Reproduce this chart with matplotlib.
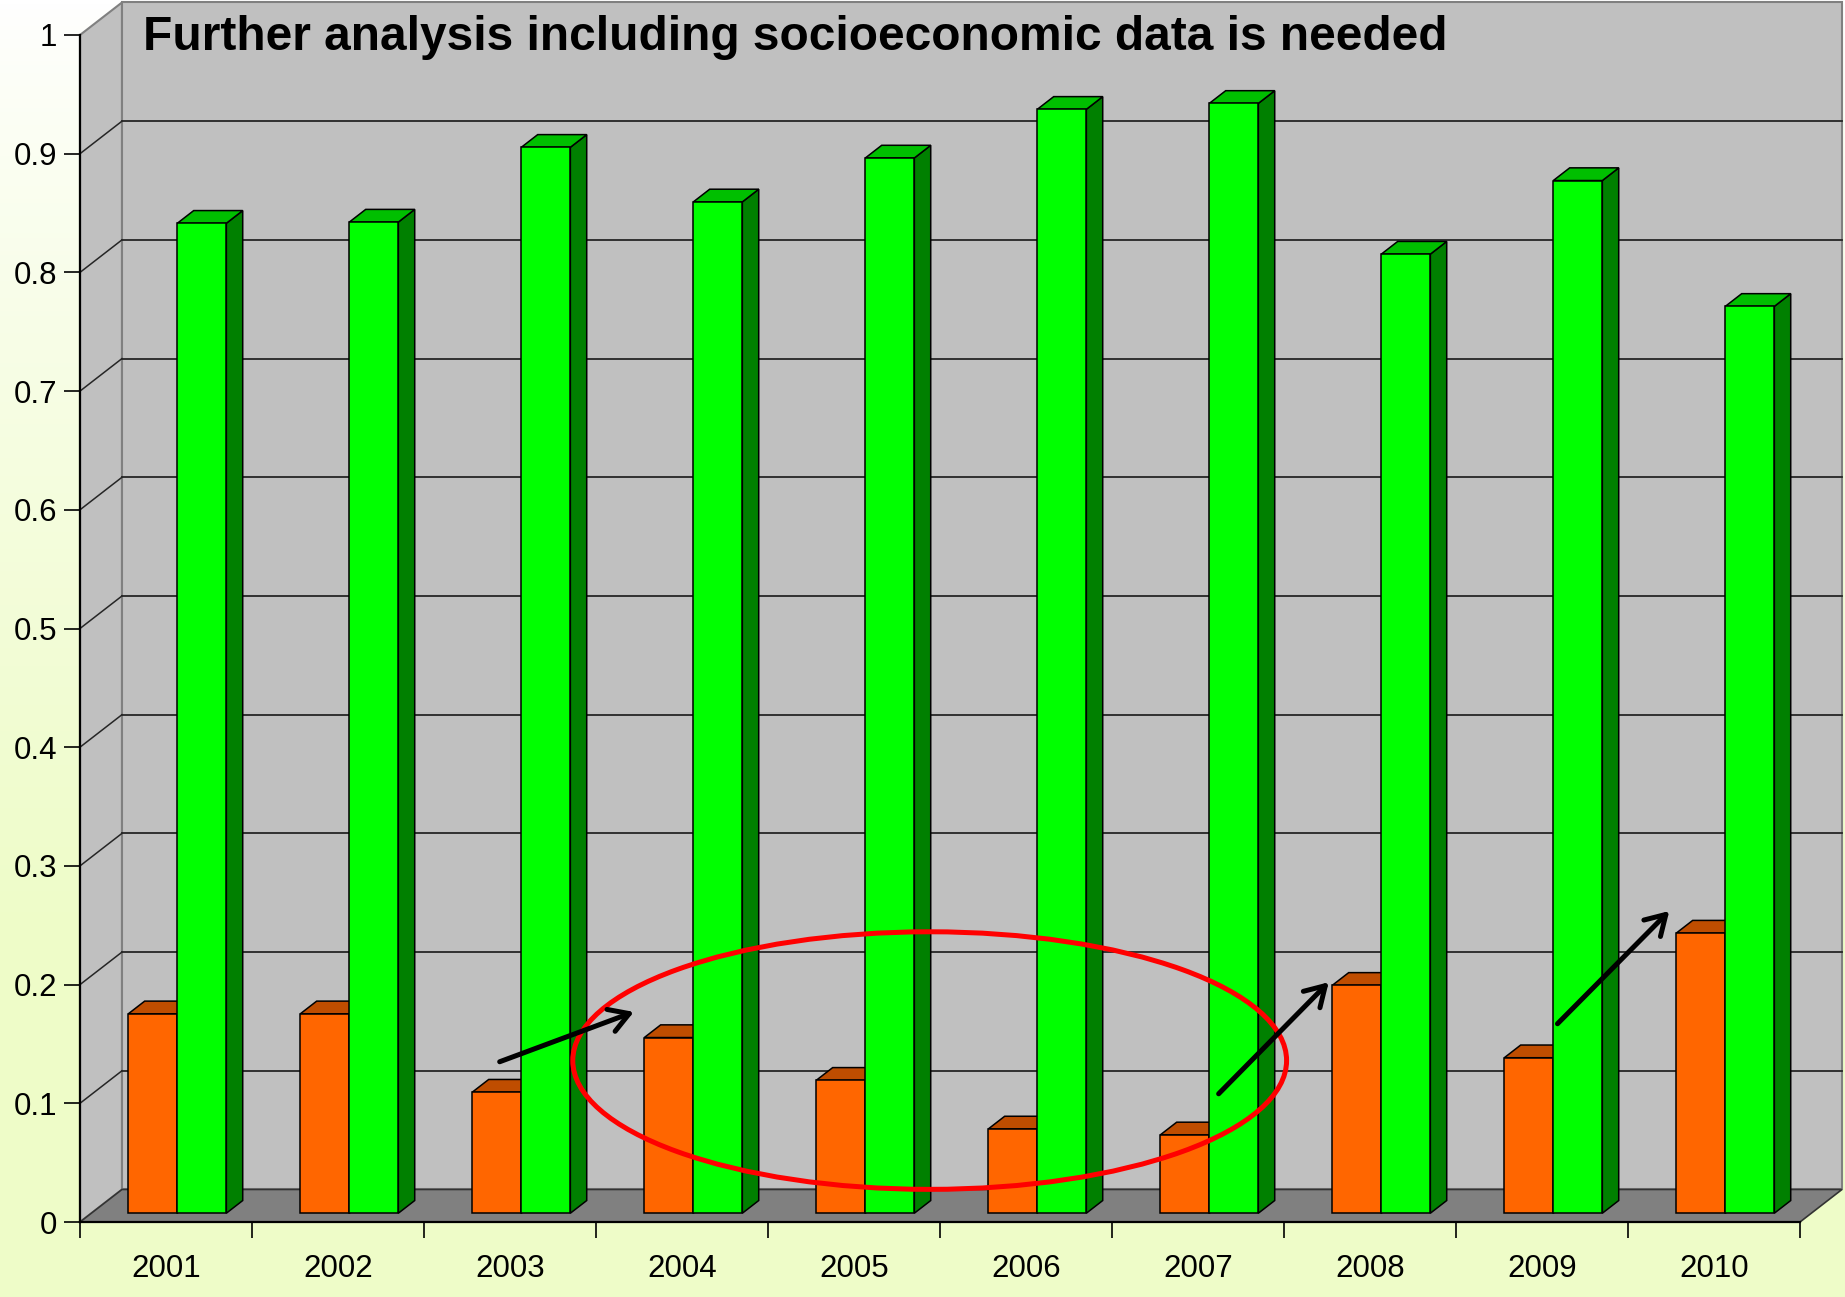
import matplotlib
matplotlib.use("Agg")
import matplotlib.pyplot as plt
import numpy as np
from matplotlib.patches import Polygon, Ellipse, FancyArrowPatch

plt.rcParams['font.family'] = ['Liberation Sans', 'DejaVu Sans']

# data
years = ["2001", "2002", "2003", "2004", "2005", "2006", "2007", "2008", "2009", "2010"]
orange_vals = [0.168, 0.168, 0.102, 0.148, 0.112, 0.071, 0.066, 0.192, 0.131, 0.236]
green_vals = [0.834, 0.835, 0.898, 0.852, 0.889, 0.930, 0.935, 0.808, 0.870, 0.764]
yticks = [0, 0.1, 0.2, 0.3, 0.4, 0.5, 0.6, 0.7, 0.8, 0.9, 1]
title = "Further analysis including socioeconomic data is needed"

# annotation positions (data units)
ring_center = (4.94, 0.136)
ring_size = (4.15, 0.217)
arrows = [((2.44, 0.135), (3.22, 0.177)),
          ((6.62, 0.108), (7.26, 0.202)),
          ((8.59, 0.167), (9.24, 0.262))]

# oblique depth of the chart box, in data units
DX, DY = 0.244, 0.0274
front_d, back_d = 0.27, 0.66   # where the bars sit inside the depth
bar_w = 0.285

W, H = 1845, 1297
fig = plt.figure(figsize=(W / 100, H / 100), dpi=100)

# background gradient
bg = fig.add_axes([0, 0, 1, 1], zorder=-1)
t = np.clip(np.linspace(0, 1, 300) / 0.72, 0, 1) ** 0.8
top = np.array([255, 255, 255]) / 255
bot = np.array([238, 252, 200]) / 255
grad = top[None, :] * (1 - t[:, None]) + bot[None, :] * t[:, None]
bg.imshow(grad[:, None, :], aspect='auto', extent=[0, 1, 0, 1])
bg.axis('off')

ax = fig.add_axes([80 / W, 1 - 1222 / H, 1720 / W, (1222 - 35) / H])
ax.set_facecolor('none')
ax.set_xlim(0, 10)
ax.set_ylim(0, 1)

# walls and floor
side = Polygon([(0, 0), (DX, DY), (DX, 1 + DY), (0, 1)], closed=True,
               fc='#C0C0C0', ec='#808080', lw=1.5, clip_on=False, zorder=1)
back = Polygon([(DX, DY), (10 + DX, DY), (10 + DX, 1 + DY), (DX, 1 + DY)], closed=True,
               fc='#C0C0C0', ec='#808080', lw=1.5, clip_on=False, zorder=1)
floor = Polygon([(0, 0), (10, 0), (10 + DX, DY), (DX, DY)], closed=True,
                fc='#808080', ec='#333333', lw=1.2, clip_on=False, zorder=1.1)
for p in (side, back, floor):
    ax.add_patch(p)

# gridlines on the back and side walls
for v in yticks[1:-1]:
    ax.plot([DX, 10 + DX], [v + DY, v + DY], color='#262626', lw=1.3, zorder=1.2, clip_on=False)
    ax.plot([0, DX], [v, v + DY], color='#262626', lw=1.1, zorder=1.2, clip_on=False)


def draw_bar(x0, val, front_c, top_c, side_c, z):
    fx, fy = front_d * DX, front_d * DY
    bx, by = (back_d - front_d) * DX, (back_d - front_d) * DY
    left = x0 + fx
    right = left + bar_w
    top_y = fy + val
    ax.add_patch(Polygon([(right, fy), (right + bx, fy + by), (right + bx, top_y + by), (right, top_y)],
                         closed=True, fc=side_c, ec='black', lw=1.1, zorder=z, clip_on=False))
    ax.add_patch(Polygon([(left, top_y), (right, top_y), (right + bx, top_y + by), (left + bx, top_y + by)],
                         closed=True, fc=top_c, ec='black', lw=1.1, zorder=z, clip_on=False))
    ax.bar(left, val, width=bar_w, bottom=fy, align='edge', color=front_c,
           edgecolor='black', linewidth=1.1, zorder=z + 0.01, clip_on=False)


for i in range(len(years)):
    c = i + 0.5
    draw_bar(c - bar_w, orange_vals[i], '#FF6600', '#BF4D00', '#A04000', 2 + i * 0.05)
    draw_bar(c, green_vals[i], '#00FF00', '#00BF00', '#008000', 2.02 + i * 0.05)

# axes, ticks and labels
for s in ('top', 'right'):
    ax.spines[s].set_visible(False)
for s in ('left', 'bottom'):
    ax.spines[s].set_linewidth(1.6)
    ax.spines[s].set_zorder(3)
ax.set_yticks(yticks)
ax.set_yticklabels([f"{v:g}" for v in yticks])
ax.set_xticks(np.arange(11))
ax.set_xticklabels([])
ax.set_xticks(np.arange(10) + 0.5, minor=True)
ax.set_xticklabels(years, minor=True)
ax.tick_params(axis='both', which='major', length=11.5, width=1.2, labelsize=22.5, color='black')
ax.tick_params(axis='y', pad=5)
ax.tick_params(axis='x', which='minor', length=0, labelsize=22.5, pad=23)

# highlight ring and arrows
ax.add_patch(Ellipse(ring_center, ring_size[0], ring_size[1], fill=False,
                     ec='#FF0000', lw=3.6, zorder=5, clip_on=False))
for tail, head in arrows:
    ax.add_patch(FancyArrowPatch(tail, head, arrowstyle='->,head_length=0.7,head_width=0.42',
                                 mutation_scale=20, color='black', lw=3.6, zorder=6,
                                 shrinkA=0, shrinkB=0))

fig.text(143 / W, 1 - 50 / H, title, fontsize=34.5, fontweight='bold',
         ha='left', va='baseline', zorder=10)

fig.savefig("out.png", dpi=100)
